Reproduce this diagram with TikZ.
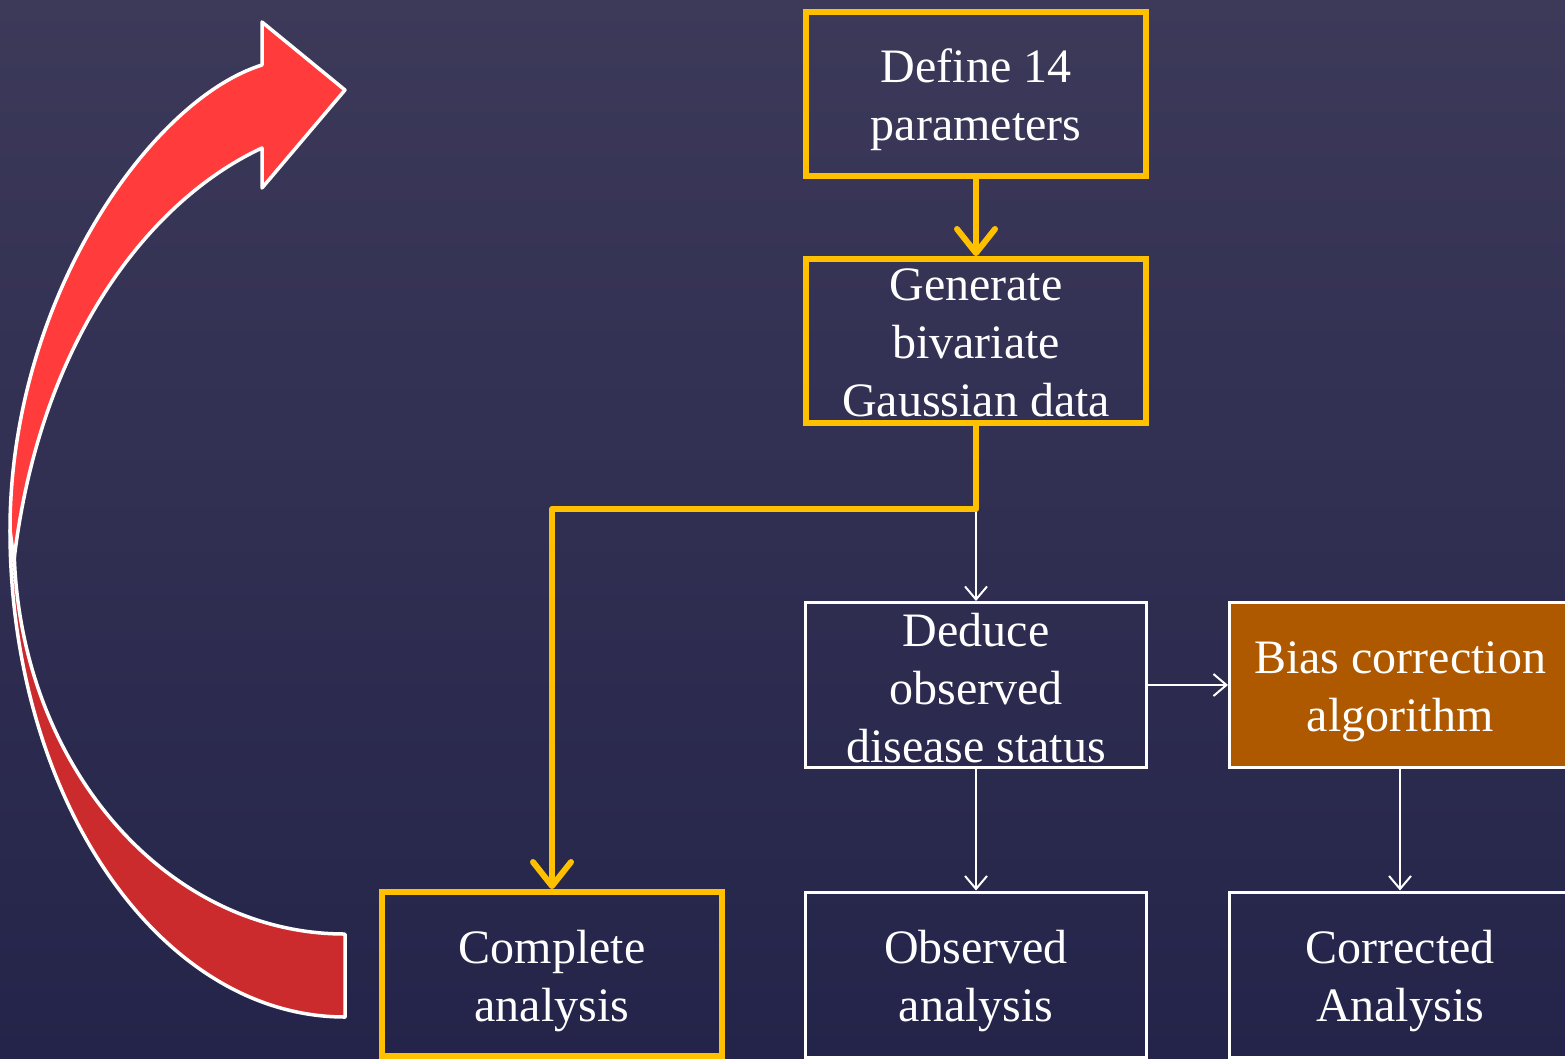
\documentclass[tikz,border=0pt]{standalone}
\usepackage{fontspec}
\setmainfont{Liberation Serif}
\usetikzlibrary{arrows.meta}
\definecolor{bgtop}{HTML}{3C3959}
\definecolor{bgbot}{HTML}{24244A}
\definecolor{gold}{HTML}{FFC000}
\definecolor{rust}{HTML}{AE5800}
\definecolor{redhi}{HTML}{FF3B3B}
\definecolor{redlo}{HTML}{CC2B2D}
\begin{document}
\begin{tikzpicture}[x=1pt,y=-1pt,
  txt/.style={text=white, font=\fontsize{48}{58}\selectfont, align=center, inner sep=0pt},
  goldbox/.style={draw=gold, line width=6pt, minimum width=340pt, minimum height=164pt, inner sep=0pt},
  whitebox/.style={draw=white, line width=3pt, minimum width=341pt, minimum height=165pt, inner sep=0pt},
  goldlink/.style={draw=gold, line width=6pt, line join=round, -{Straight Barb[length=24pt, width=38pt, round]}},
  whitelink/.style={draw=white, line width=2pt, -{Straight Barb[length=13pt, width=22pt]}},
  loopedge/.style={draw=white, line width=3.5pt, line join=round},
]
\useasboundingbox (0,0) rectangle (1565,1058);
\clip (0,0) rectangle (1565,1058);
% backdrop
\shade[top color=bgtop, bottom color=bgbot] (0,0) rectangle (1565,1058);

% curved return arrow: lower (shadowed) band, then upper band with head
\filldraw[loopedge, fill=redlo]
  (345,1017) .. controls (160,1017) and (10,799) .. (10,530)
  -- (14,540) .. controls (14,758) and (162,934) .. (345,934) -- cycle;
\filldraw[loopedge, fill=redhi]
  (10,530) .. controls (10,300) and (150,100) .. (262,65)
  -- (262,22) -- (345,90) -- (262,188) -- (262,148)
  .. controls (150,200) and (40,340) .. (14,560) -- cycle;

% process boxes
\node[goldbox] (def) at (976,93.5) {};
\node[goldbox] (gen) at (976,341) {};
\node[whitebox] (ded) at (976,685) {};
\node[whitebox, fill=rust] (bias) at (1400,685) {};
\node[goldbox] (comp) at (552,974) {};
\node[whitebox] (obs) at (976,974.5) {};
\node[whitebox] (corr) at (1400,974.5) {};

% box captions
\node[txt] (def-t) at ([yshift=-6pt]def.center) {Define 14\\parameters};
\node[txt] (gen-t) at ([yshift=-2pt]gen.center) {Generate\\bivariate\\Gaussian data};
\node[txt] (ded-t) at ([yshift=-3pt]ded.center) {Deduce\\observed\\disease status};
\node[txt] (bias-t) at ([yshift=-7pt]bias.center) {Bias correction\\algorithm};
\node[txt] (comp-t) at ([yshift=-7pt]comp.center) {Complete\\analysis};
\node[txt] (obs-t) at ([yshift=-7pt]obs.center) {Observed\\analysis};
\node[txt] (corr-t) at ([yshift=-7pt]corr.center) {Corrected\\Analysis};

% connectors
\coordinate (split) at (976,509);
\draw[whitelink] (split) -- (ded.north);
\draw[whitelink] (ded.east) -- (bias.west);
\draw[whitelink] (ded.south) -- (obs.north);
\draw[whitelink] (bias.south) -- (corr.north);
\draw[goldlink] (def.south) -- (gen.north);
\draw[goldlink] (gen.south) -- (split) -| (comp.north);
\end{tikzpicture}
\end{document}
